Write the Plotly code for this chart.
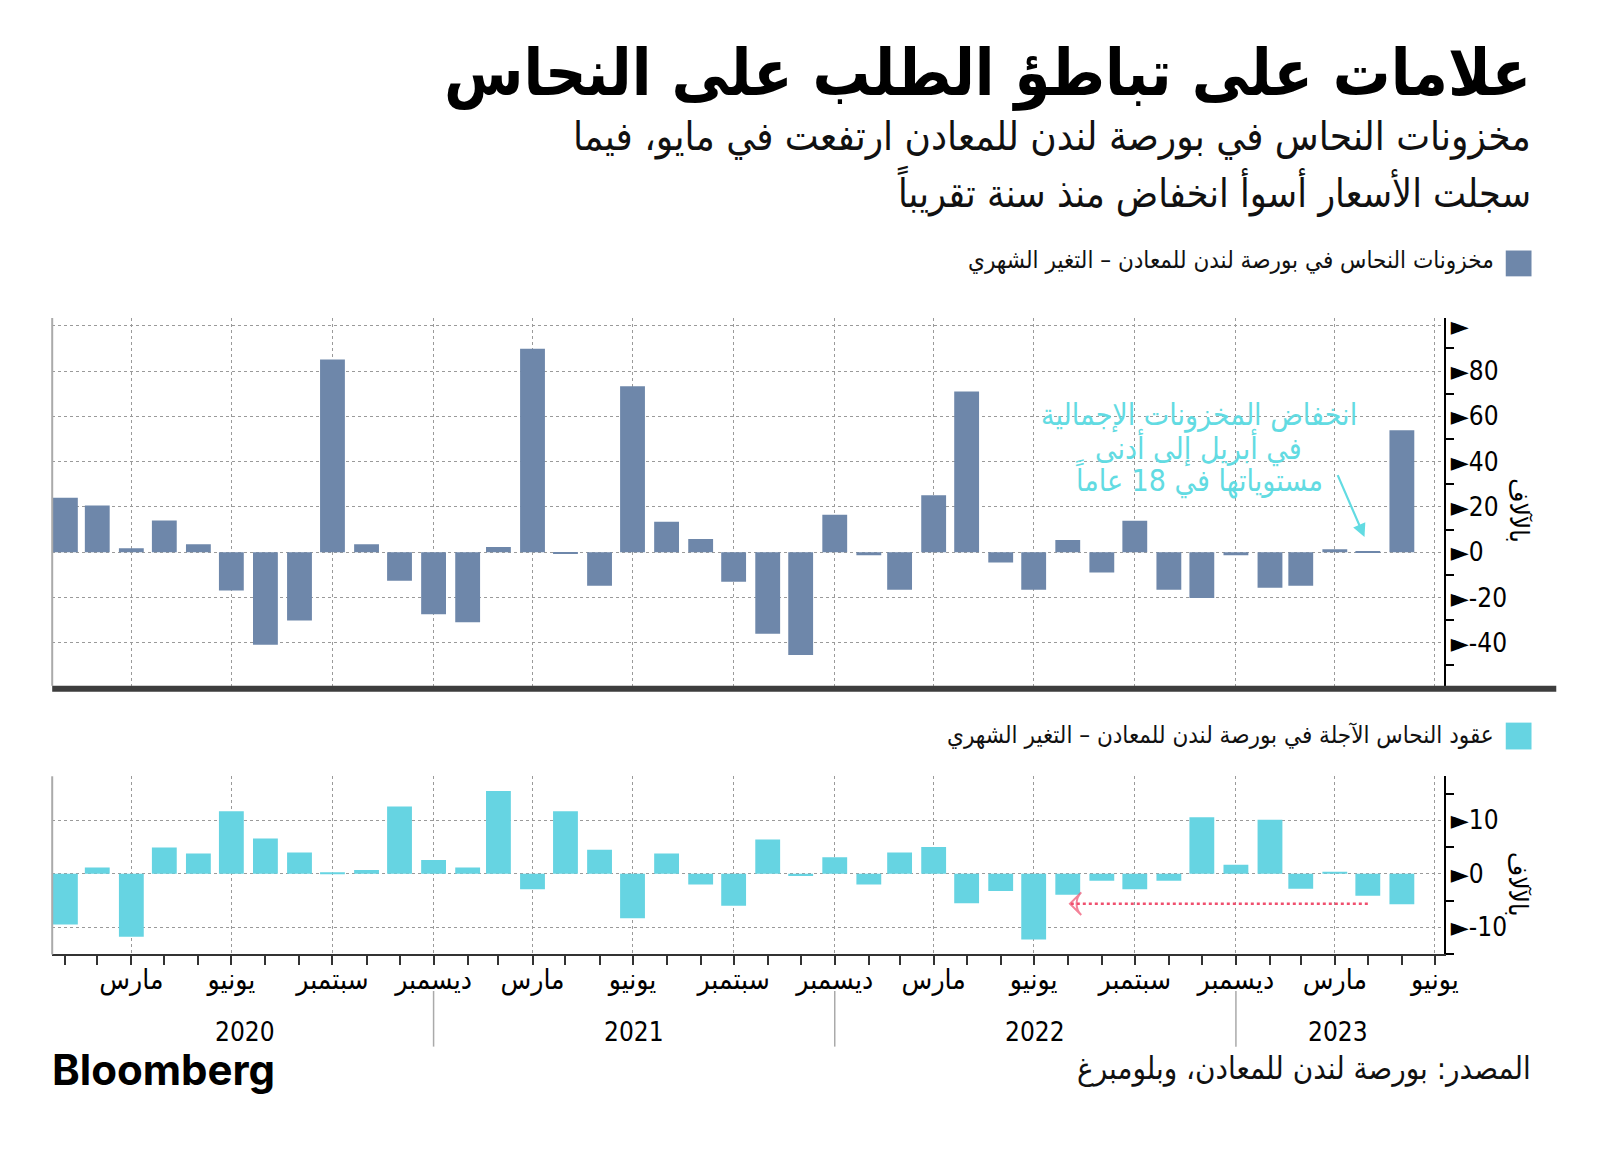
import pandas as pd
import plotly.graph_objects as go

# ---------------- data ----------------
months = [d.strftime("%Y-%m-%d") for d in pd.date_range("2020-01-31", periods=41, freq="ME")]

# LME copper stocks, monthly change (thousand tonnes)
stocks_change = [24.1, 20.6, 1.8, 14.0, 3.5, -16.9, -40.9, -30.2, 85.1, 3.5, -12.6, -27.4,
                 -30.9, 2.3, 89.9, -0.4, -14.8, 73.3, 13.5, 5.8, -13.0, -36.0, -45.4, 16.6,
                 -1.3, -16.6, 25.2, 71.0, -4.5, -16.6, 5.4, -9.0, 13.9, -16.6, -20.2, -1.3,
                 -15.7, -14.8, 1.3, 0.3, 53.9]

# LME copper futures (open interest), monthly change (thousands)
futures_change = [-9.5, 1.2, -11.8, 4.9, 3.8, 11.7, 6.6, 4.0, 0.25, 0.7, 12.6, 2.6,
                  1.2, 15.5, -2.9, 11.7, 4.5, -8.3, 3.8, -2.0, -6.0, 6.4, -0.4, 3.1,
                  -2.0, 4.0, 5.0, -5.5, -3.2, -12.3, -3.9, -1.3, -2.9, -1.3, 10.6, 1.7,
                  10.1, -2.8, 0.4, -4.1, -5.7]

quarter_ends = [d.strftime("%Y-%m-%d") for d in pd.date_range("2020-03-31", "2023-06-30", freq="QE")]
quarter_labels = ["مارس", "يونيو", "سبتمبر", "ديسمبر"] * 3 + ["مارس", "يونيو"]
all_month_ends = [d.strftime("%Y-%m-%d") for d in pd.date_range("2020-01-31", "2023-06-30", freq="ME")]

years = ["2020", "2021", "2022", "2023"]
year_label_pos = ["2020-07-12", "2021-07-01", "2022-07-01", "2023-04-03"]
year_breaks = ["2020-12-31", "2021-12-31", "2022-12-31"]

top_ticks = [-40, -20, 0, 20, 40, 60, 80, 100]
top_ticktext = ["►-40", "►-20", "►0", "►20", "►40", "►60", "►80", "►"]
top_minor = [-50, -30, -10, 10, 30, 50, 70, 90]
bot_ticks = [-10, 0, 10]
bot_ticktext = ["►-10", "►0", "►10"]
bot_minor = [-15, -5, 5, 15]

TITLE = "علامات على تباطؤ الطلب على النحاس"
SUB1 = "مخزونات النحاس في بورصة لندن للمعادن ارتفعت في مايو، فيما"
SUB2 = "سجلت الأسعار أسوأ انخفاض منذ سنة تقريباً"
LEG1 = "مخزونات النحاس في بورصة لندن للمعادن – التغير الشهري"
LEG2 = "عقود النحاس الآجلة في بورصة لندن للمعادن – التغير الشهري"
NOTE_LINES = ["انخفاض المخزونات الإجمالية", "في أبريل إلى أدنى", "مستوياتها في 18 عاماً"]
UNIT = "بالآلاف"
SOURCE = "المصدر: بورصة لندن للمعادن، وبلومبرغ"

# ---------------- style ----------------
W, H = 1600, 1149
AR = "DejaVu Sans Condensed, DejaVu Sans, sans-serif"
NUM = "DejaVu Sans Condensed, DejaVu Sans, sans-serif"
C_TOP = "#6e87aa"
C_BOT = "#66d4e2"
C_NOTE = "#62dbe2"
GRID = "#9a9a9a"

def px(x):
    return x / W

def py(y):
    return 1 - y / H

xdom = [px(52.7), px(1457.3)]
xrange = ["2020-01-19", "2023-07-08"]
bar_w = 22.6 * 86400000

fig = go.Figure()
fig.add_trace(go.Bar(x=months, y=stocks_change, width=bar_w, marker_color=C_TOP,
                     marker_line_width=0, xaxis="x", yaxis="y", hoverinfo="skip"))
fig.add_trace(go.Bar(x=months, y=futures_change, width=bar_w, marker_color=C_BOT,
                     marker_line_width=0, xaxis="x2", yaxis="y2", hoverinfo="skip"))

# red dotted arrow in futures panel
fig.add_trace(go.Scatter(x=["2023-04-30", "2022-08-02"], y=[-5.6, -5.6], mode="lines+markers",
                         line=dict(color="#ef4f6e", width=2.5, dash="dot"),
                         marker=dict(symbol="arrow-wide-open", size=[0, 16], angleref="previous",
                                     color="#ef4f6e", line=dict(color="#ef4f6e", width=2)),
                         xaxis="x2", yaxis="y2", hoverinfo="skip"))

axis_common = dict(gridcolor=GRID, griddash="dot", gridwidth=1, zeroline=False)

fig.update_layout(
    width=W, height=H, autosize=False, margin=dict(l=0, r=0, t=0, b=0),
    paper_bgcolor="white", plot_bgcolor="white", showlegend=False,
    xaxis=dict(domain=xdom, range=xrange, type="date", anchor="y", tickvals=quarter_ends,
               showticklabels=False, ticks="", showline=False, showgrid=True, **axis_common),
    yaxis=dict(domain=[py(683), py(313)], range=[-59, 103.4], side="right", anchor="x",
               tickvals=top_ticks, ticktext=top_ticktext, ticks="", showline=True,
               linecolor="black", linewidth=2, showgrid=True,
               tickfont=dict(family=NUM, size=26, color="black"),
               minor=dict(tickvals=top_minor, ticks="outside", ticklen=8, tickcolor="black",
                          tickwidth=1.5, showgrid=False),
               **axis_common),
    xaxis2=dict(domain=xdom, range=xrange, type="date", anchor="y2", tickvals=quarter_ends,
                ticktext=quarter_labels, ticks="outside", ticklen=9, tickcolor="#333",
                tickwidth=1.5, showline=True, linecolor="#333", linewidth=1.5, showgrid=True,
                ticklabelstandoff=-10,
                tickfont=dict(family=AR, size=28, color="black"),
                minor=dict(tickvals=all_month_ends, ticks="outside", ticklen=9, tickcolor="#333",
                           tickwidth=1.5, showgrid=False),
                **axis_common),
    yaxis2=dict(domain=[py(953.3), py(774)], range=[-15.1, 18.25], side="right", anchor="x2",
                tickvals=bot_ticks, ticktext=bot_ticktext, ticks="", showline=True,
                linecolor="black", linewidth=2, showgrid=True,
                tickfont=dict(family=NUM, size=26, color="black"),
                minor=dict(tickvals=bot_minor, ticks="outside", ticklen=8, tickcolor="black",
                           tickwidth=1.5, showgrid=False),
                **axis_common),
)

shapes = [
    # left grey axis lines
    dict(type="line", xref="paper", yref="paper", x0=xdom[0], x1=xdom[0], y0=py(683), y1=py(313),
         line=dict(color="#aaaaaa", width=2)),
    dict(type="line", xref="paper", yref="paper", x0=xdom[0], x1=xdom[0], y0=py(953.3), y1=py(774),
         line=dict(color="#aaaaaa", width=2)),
    # dark separator under top panel
    dict(type="line", xref="paper", yref="paper", x0=xdom[0], x1=px(1571), y0=py(686), y1=py(686),
         line=dict(color="#3d3d3d", width=6)),
    # legend squares
    dict(type="rect", xref="paper", yref="paper", x0=px(1520), x1=px(1546), y0=py(271), y1=py(245),
         fillcolor=C_TOP, line=dict(width=0)),
    dict(type="rect", xref="paper", yref="paper", x0=px(1520), x1=px(1546), y0=py(747), y1=py(720),
         fillcolor=C_BOT, line=dict(width=0)),
]
for yb in year_breaks:
    shapes.append(dict(type="line", xref="x2", yref="paper", x0=yb, x1=yb, y0=py(1046), y1=py(990),
                       line=dict(color="#aaaaaa", width=1.5)))
fig.update_layout(shapes=shapes)

ann = [
    dict(text="<b>" + TITLE + "</b>", x=px(1548), y=py(67), xanchor="right", yanchor="middle",
         font=dict(family=AR, size=64, color="black")),
    dict(text=SUB1, x=px(1548), y=py(130), xanchor="right", yanchor="middle",
         font=dict(family=AR, size=40, color="#111")),
    dict(text=SUB2, x=px(1548), y=py(185), xanchor="right", yanchor="middle",
         font=dict(family=AR, size=39, color="#111")),
    dict(text=LEG1, x=px(1510), y=py(255), xanchor="right", yanchor="middle",
         font=dict(family=AR, size=24, color="#111")),
    dict(text=LEG2, x=px(1510), y=py(732), xanchor="right", yanchor="middle",
         font=dict(family=AR, size=24, color="#111")),
    dict(text=UNIT, x=px(1533), y=py(507), xanchor="center", yanchor="middle", textangle=90,
         font=dict(family=AR, size=26, color="black")),
    dict(text=UNIT, x=px(1533), y=py(883), xanchor="center", yanchor="middle", textangle=90,
         font=dict(family=AR, size=26, color="black")),
    dict(text="<b>Bloomberg</b>", x=px(50), y=py(1069), xanchor="left", yanchor="middle",
         font=dict(family="Inter, Liberation Sans, sans-serif", size=42, color="black")),
    dict(text=SOURCE, x=px(1548), y=py(1068), xanchor="right", yanchor="middle",
         font=dict(family=AR, size=31, color="#111")),
    # cyan arrow to April 2023
    dict(x="2023-04-27", y=6.7, ax="2023-04-02", ay=34.7, xref="x", yref="y", axref="x", ayref="y",
         text="", showarrow=True, arrowhead=2, arrowsize=1.2, arrowwidth=2.2, arrowcolor=C_NOTE),
]
for line, ypos in zip(NOTE_LINES, [411, 443, 475]):
    ann.append(dict(text=line, x=px(1210), y=py(ypos), xanchor="center", yanchor="middle",
                    font=dict(family=AR, size=30, color=C_NOTE)))
for yr, pos in zip(years, year_label_pos):
    ann.append(dict(text=yr, x=pos, y=py(1031), xref="x2", yref="paper", xanchor="center",
                    yanchor="middle", showarrow=False, font=dict(family=NUM, size=26, color="black")))
for a in ann:
    a.setdefault("xref", "paper")
    a.setdefault("yref", "paper")
    a.setdefault("showarrow", False)
fig.update_layout(annotations=ann)

fig.write_html("out.html")
